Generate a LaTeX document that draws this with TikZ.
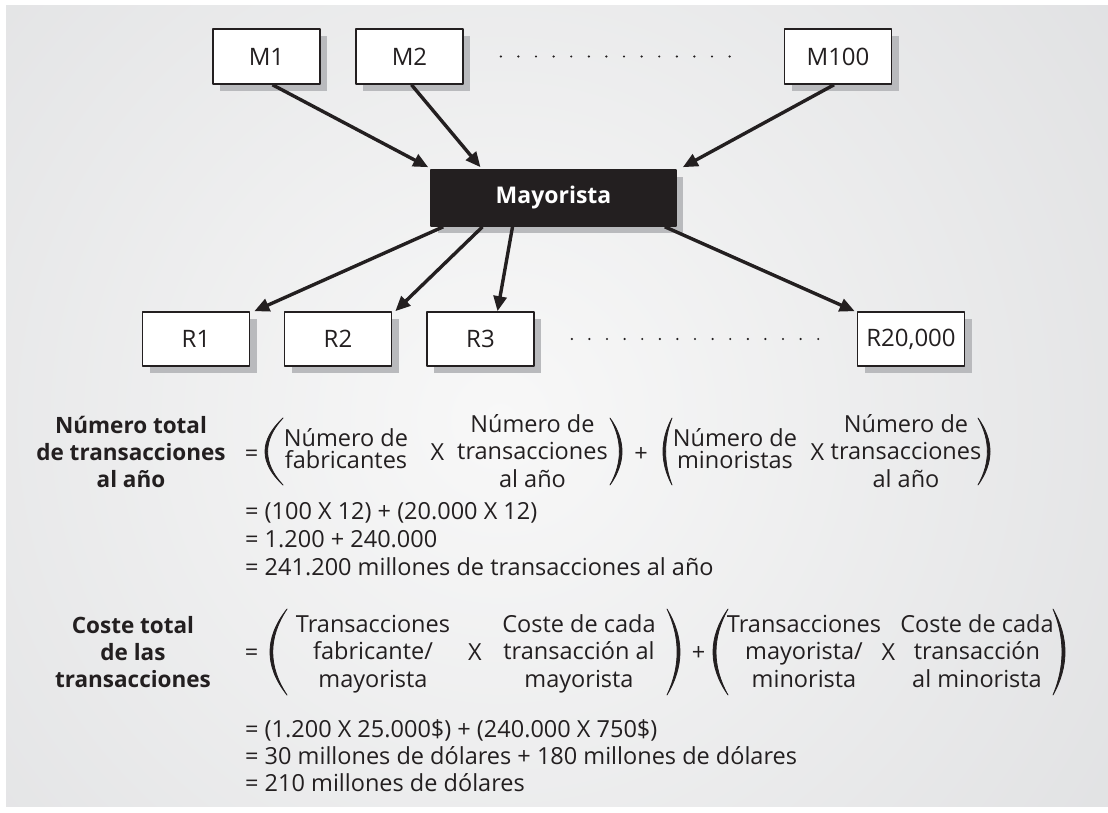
\documentclass[tikz,border=0pt]{standalone}
\usepackage{fontspec}
\setmainfont{Open Sans}
\usetikzlibrary{arrows.meta,shadows}
\definecolor{chanInk}{HTML}{231F20}
\definecolor{chanShadow}{HTML}{B9BABD}
\definecolor{chanEdge}{HTML}{D9DADC}
\definecolor{chanGlow}{HTML}{F8F8F8}

\begin{document}
\begin{tikzpicture}[x=1pt,y=-1pt,>=Latex,line cap=round,line join=round]
\useasboundingbox (0,0) rectangle (1108,813);
\fill[white] (0,0) rectangle (1108,813);
\begin{scope}
\clip (6,6) rectangle (1108,806);
\fill[chanEdge] (6,6) rectangle (1108,806);
\shade[inner color=chanGlow,outer color=chanEdge] (500,420) circle (1000);
\end{scope}
\tikzset{unit/.style={draw=chanInk,line width=1.6pt,fill=white,text=chanInk,minimum width=107pt,minimum height=55pt,font=\fontsize{24}{28}\selectfont,drop shadow={shadow xshift=7pt,shadow yshift=-7pt,fill=chanShadow,opacity=1}},
  hub/.style={unit,fill=chanInk,text=white,minimum width=245pt,minimum height=56pt,font=\bfseries\fontsize{23}{27}\selectfont},
  flow/.style={draw=chanInk,line width=3.4pt,line cap=butt,-{Triangle[length=15pt,width=13pt]}},
  dotrow/.style={draw=chanInk,line width=2.4pt,dash pattern=on 0pt off 17.6pt},
  head/.style={font=\bfseries\fontsize{22.5}{27}\selectfont,text=chanInk,align=center,anchor=base,inner sep=0pt},
  term/.style={font=\fontsize{23.5}{27.5}\selectfont,text=chanInk,align=center,anchor=base,inner sep=0pt},
  pair/.style={term,font=\fontsize{23.5}{21.5}\selectfont},
  sum/.style={term,anchor=base west},
  paren/.style={fill=chanInk,draw=chanInk,line width=0.8pt}}
% manufacturers, wholesaler, retailers
\node[unit] (m1) at (266.5,56.5) {M1}; \node[unit] (m2) at (409.5,56.5) {M2}; \node[unit] (m100) at (838,56.5) {M100};
\node[hub] (may) at (553.5,198) {Mayorista};
\node[unit,minimum height=54pt] (r1) at (196,339) {R1}; \node[unit,minimum height=54pt] (r2) at (338,339) {R2};
\node[unit,minimum height=54pt] (r3) at (480.5,339) {R3}; \node[unit,minimum height=54pt] (r20) at (911,339) {R20,000};
\draw[dotrow] ([xshift=37pt]m2.east) -- ([xshift=-38pt]m100.west);
\draw[dotrow] ([xshift=37pt]r3.east) -- ([xshift=-37pt]r20.west);
\draw[flow] ([xshift=6pt]m1.south) -- ([xshift=-2pt,yshift=2pt]may.north west);
\draw[flow] ([xshift=2pt]m2.south) -- ([xshift=-73pt,yshift=2pt]may.north);
\draw[flow] ([xshift=-4pt]m100.south) -- ([xshift=6pt,yshift=2pt]may.north east);
\draw[flow] ([xshift=13pt]may.south west) -- ([xshift=4pt]r1.north east);
\draw[flow] ([xshift=-71pt]may.south) -- ([xshift=3pt]r2.north east);
\draw[flow] ([xshift=-41pt]may.south) -- ([xshift=17pt]r3.north);
\draw[flow] ([xshift=-12pt]may.south east) -- ([xshift=-2pt]r20.north west);
% number of transactions (multi-line nodes sit on their last baseline)
\node[head] (totN) at (131,487) {Número total\\de transacciones\\al año};
\node[term] (eqN) at (251.5,461) {=}; \node[pair] (fab) at (346,468) {Número de\\fabricantes};
\node[term] (xN1) at (437.5,460) {X}; \node[term] (trN1) at (532.5,487) {Número de\\transacciones\\al año};
\node[term] (plN) at (641,461) {+}; \node[pair] (mino) at (735,468) {Número de\\minoristas};
\node[term] (xN2) at (817.5,460) {X}; \node[term] (trN2) at (906,487) {Número de\\transacciones\\al año};
\fill[paren] (283,418) .. controls (259,440.3) and (259,462.7) .. (283,485) .. controls (262.5,462.7) and (262.5,440.3) .. (283,418);
\fill[paren] (610,418) .. controls (626,440.3) and (626,462.7) .. (610,485) .. controls (622.5,462.7) and (622.5,440.3) .. (610,418);
\fill[paren] (672,418) .. controls (660,440.3) and (660,462.7) .. (672,485) .. controls (663.5,462.7) and (663.5,440.3) .. (672,418);
\fill[paren] (978,418) .. controls (994,440.3) and (994,462.7) .. (978,485) .. controls (990.5,462.7) and (990.5,440.3) .. (978,418);
\node[sum] (resN1) at (245,519) {= (100 X 12) + (20.000 X 12)};
\node[sum] (resN2) at (245,547) {= 1.200 + 240.000};
\node[sum] (resN3) at (245,575) {= 241.200 millones de transacciones al año};
% total cost
\node[head] (totC) at (133,687) {Coste total\\de las\\transacciones};
\node[term] (eqC) at (251.5,660) {=}; \node[term] (trFab) at (373,687) {Transacciones\\fabricante/\\mayorista};
\node[term] (xC1) at (475,660) {X}; \node[term] (costMay) at (579,687) {Coste de cada\\transacción al\\mayorista};
\node[term] (plC) at (698.5,660) {+}; \node[term] (trMay) at (804,687) {Transacciones\\mayorista/\\minorista};
\node[term] (xC2) at (888.5,660) {X}; \node[term] (costMin) at (977,687) {Coste de cada\\transacción\\al minorista};
\fill[paren] (287,609) .. controls (264.3,637.7) and (264.3,666.3) .. (287,695) .. controls (268,666.3) and (268,637.7) .. (287,609);
\fill[paren] (667,609) .. controls (684.3,637.7) and (684.3,666.3) .. (667,695) .. controls (680.5,666.3) and (680.5,637.7) .. (667,609);
\fill[paren] (728,609) .. controls (708,637.7) and (708,666.3) .. (728,695) .. controls (712,666.3) and (712,637.7) .. (728,609);
\fill[paren] (1053,609) .. controls (1069,637.7) and (1069,666.3) .. (1053,695) .. controls (1065,666.3) and (1065,637.7) .. (1053,609);
\node[sum] (resC1) at (245,737) {= (1.200 X 25.000\$) + (240.000 X 750\$)};
\node[sum] (resC2) at (245,764) {= 30 millones de dólares + 180 millones de dólares};
\node[sum] (resC3) at (245,791) {= 210 millones de dólares};
\end{tikzpicture}
\end{document}
